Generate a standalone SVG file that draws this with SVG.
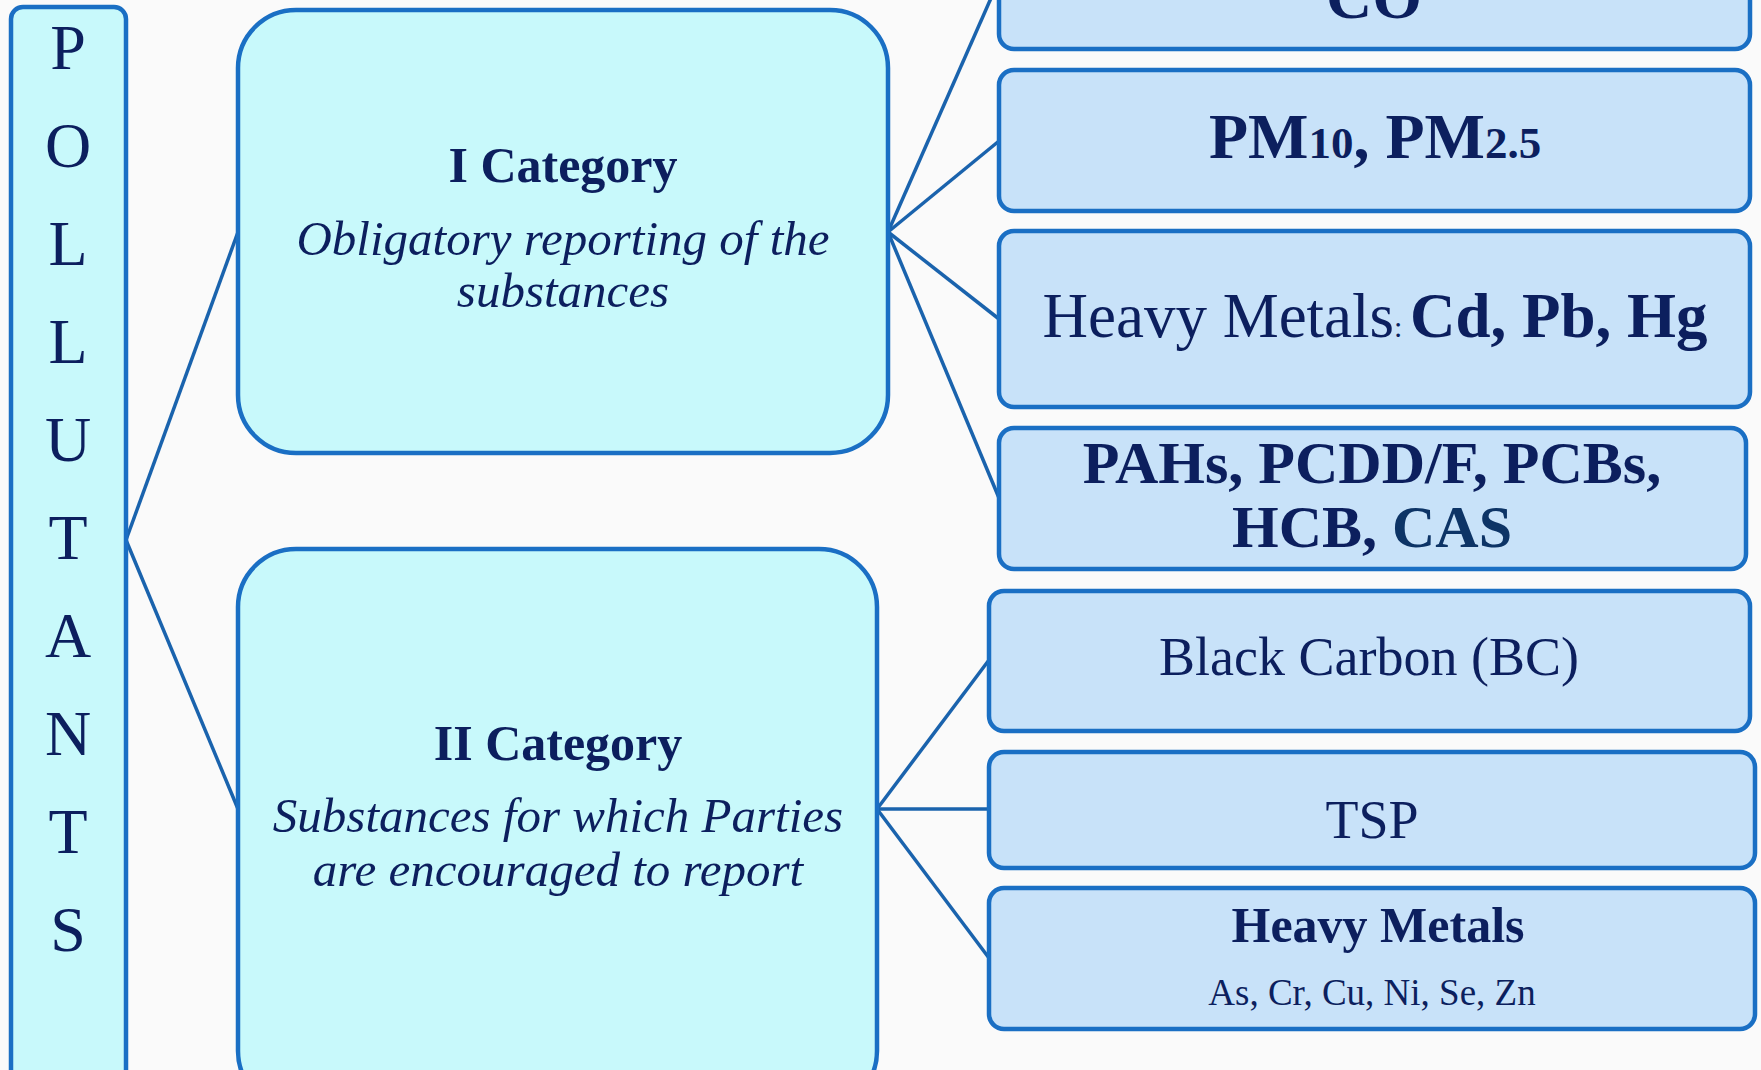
<svg xmlns="http://www.w3.org/2000/svg" width="1761" height="1070" viewBox="0 0 1761 1070">
<style>
.bg{fill:#fafafa}
.cat{fill:#c8f9fb;stroke:#1a6fc4;stroke-width:4.5}
.item{fill:#c8e2f9;stroke:#1a6fc4;stroke-width:4.5}
.conn{stroke:#1a63ad;stroke-width:3.5;fill:none}
text{font-family:"Liberation Serif","Times New Roman",serif;fill:#0c1f5e;text-anchor:middle}
.b{font-weight:bold}
.i{font-style:italic}
.v{font-size:64px}
</style>
<rect class="bg" x="0" y="0" width="1761" height="1070"/>
<g id="connectors">
<line class="conn" x1="126" y1="540" x2="238" y2="232"/>
<line class="conn" x1="126" y1="540" x2="238" y2="809"/>
<line class="conn" x1="888" y1="232" x2="999" y2="-20"/>
<line class="conn" x1="888" y1="232" x2="999" y2="141"/>
<line class="conn" x1="888" y1="232" x2="999" y2="319"/>
<line class="conn" x1="888" y1="232" x2="999" y2="498"/>
<line class="conn" x1="877" y1="809" x2="989" y2="660"/>
<line class="conn" x1="877" y1="809" x2="989" y2="809"/>
<line class="conn" x1="877" y1="809" x2="989" y2="958"/>
</g>
<g id="pollutants">
<rect class="cat" x="11" y="7" width="115" height="1090" rx="12"/>
<text class="v" x="68" y="69">P</text>
<text class="v" x="68" y="167">O</text>
<text class="v" x="68" y="265">L</text>
<text class="v" x="68" y="363">L</text>
<text class="v" x="68" y="461">U</text>
<text class="v" x="68" y="559">T</text>
<text class="v" x="68" y="657">A</text>
<text class="v" x="68" y="755">N</text>
<text class="v" x="68" y="853">T</text>
<text class="v" x="68" y="951">S</text>
</g>
<g id="cat1">
<rect class="cat" x="238" y="10" width="650" height="443" rx="58"/>
<text class="b" x="563" y="182" font-size="50">I Category</text>
<text class="i" x="563" y="255" font-size="49">Obligatory reporting of the</text>
<text class="i" x="563" y="307" font-size="49">substances</text>
</g>
<g id="cat2">
<rect class="cat" x="238" y="549" width="639" height="560" rx="58"/>
<text class="b" x="558" y="760" font-size="50">II Category</text>
<text class="i" x="558" y="832" font-size="49">Substances for which Parties</text>
<text class="i" x="558" y="886" font-size="49">are encouraged to report</text>
</g>
<g id="co">
<rect class="item" x="999" y="-100" width="751" height="149" rx="15"/>
<text class="b" x="1374" y="18" font-size="64">CO</text>
</g>
<g id="pm">
<rect class="item" x="999" y="70" width="751" height="141" rx="15"/>
<text class="b" x="1375" y="158" font-size="64">PM<tspan font-size="45">10</tspan>, PM<tspan font-size="45">2.5</tspan></text>
</g>
<g id="hm1">
<rect class="item" x="999" y="231" width="751" height="176" rx="15"/>
<text x="1375" y="337" font-size="63">Heavy Metals<tspan font-size="30">: </tspan><tspan class="b">Cd, Pb, Hg</tspan></text>
</g>
<g id="pahs">
<rect class="item" x="999" y="428" width="747" height="141" rx="15"/>
<text class="b" x="1372" y="483" font-size="60">PAHs, PCDD/F, PCBs,</text>
<text class="b" x="1372" y="547" font-size="60">HCB, <tspan fill="#0d3466">CAS</tspan></text>
</g>
<g id="bc">
<rect class="item" x="989" y="591" width="761" height="140" rx="15"/>
<text x="1369" y="675" font-size="54">Black Carbon (BC)</text>
</g>
<g id="tsp">
<rect class="item" x="989" y="752" width="766" height="116" rx="15"/>
<text x="1372" y="838" font-size="54">TSP</text>
</g>
<g id="hm2">
<rect class="item" x="989" y="888" width="766" height="141" rx="15"/>
<text class="b" x="1378" y="942" font-size="50">Heavy Metals</text>
<text x="1372" y="1005" font-size="37">As, Cr, Cu, Ni, Se, Zn</text>
</g>
</svg>
